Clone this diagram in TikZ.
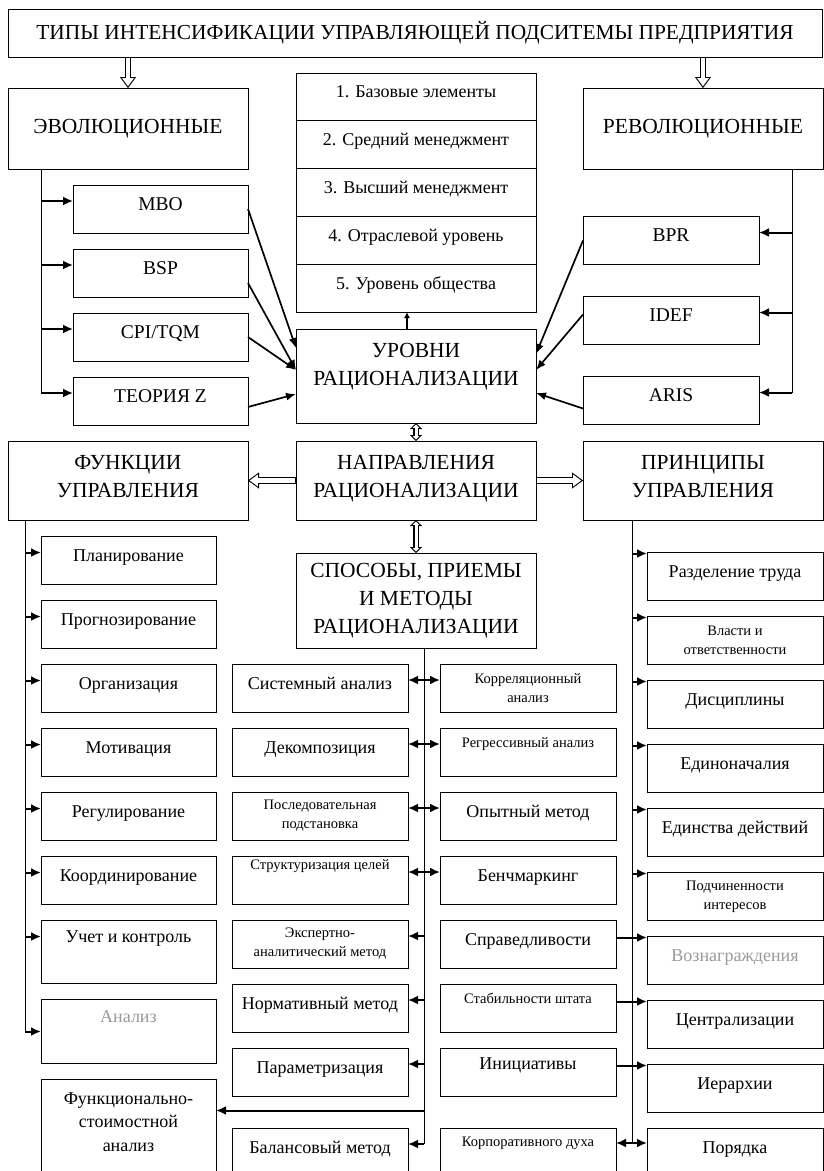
\documentclass[tikz,border=0pt]{standalone}
\usepackage{fontspec}
\setmainfont{Liberation Serif}
\usetikzlibrary{arrows.meta,positioning,calc}
\newcommand{\fsz}[2]{\fontsize{#1}{#2}\selectfont}

\begin{document}
\begin{tikzpicture}[x=1pt, y=-1pt,
  node distance=16pt,
  cell/.style={draw, line width=0.8pt, inner sep=1pt, outer sep=0pt, align=center,
               minimum width=176pt, minimum height=48pt, font=\fsz{18}{23.5}},
  oneline/.style={text height=12pt, text depth=10pt},
  lift/.style={text depth=#1},
  smalltxt/.style={font=\fsz{14.5}{19}},
  headbox/.style={cell, minimum width=240pt, font=\fsz{21.5}{28}},
  levelrow/.style={cell, oneline, minimum width=240pt, minimum height=47.8pt},
  abbr/.style={cell, oneline, minimum width=175pt, font=\fsz{19.5}{23}},
  trunk/.style={line width=0.9pt},
  arr/.style={-{Latex[length=10pt,width=9pt]}, line width=2pt},
  darr/.style={{Latex[length=10pt,width=9pt]}-{Latex[length=10pt,width=9pt]}, line width=2pt},
  diag/.style={-{Latex[length=10pt,width=8pt]}, line width=1.7pt},
  hollowout/.style={line width=6.8pt, -{Triangle[length=11pt, width=16pt, line width=0.1pt]}},
  hollowin/.style={white, line width=4.6pt, shorten <=0.9pt, shorten >=1.9pt,
                   -{Triangle[length=8pt, width=11.7pt, line width=0.1pt]}},
  dhollowout/.style={line width=5.2pt,
                   {Triangle[length=6pt, width=12pt, line width=0.1pt]}-{Triangle[length=6pt, width=12pt, line width=0.1pt]}},
  dhollowin/.style={white, line width=3pt, shorten <=1.6pt, shorten >=1.6pt,
                   {Triangle[length=3.3pt, width=6.7pt, line width=0.1pt]}-{Triangle[length=3.3pt, width=6.7pt, line width=0.1pt]}}
]
\useasboundingbox (0,0) rectangle (824,1171);

% top level
\node[cell, minimum width=814pt, font=\fsz{21.4}{25}] (title) at (415,33)
  {ТИПЫ ИНТЕНСИФИКАЦИИ УПРАВЛЯЮЩЕЙ ПОДСИТЕМЫ ПРЕДПРИЯТИЯ};
\node[headbox, minimum height=81pt] (evo) at (128,128.5) {ЭВОЛЮЦИОННЫЕ};
\node[headbox, minimum height=81pt] (rev) at (703,128.5) {РЕВОЛЮЦИОННЫЕ};

% levels stack
\node[levelrow] (lv1) at (416,96.9) {1. Базовые элементы};
\node[levelrow, below=0pt of lv1] (lv2) {2. Средний менеджмент};
\node[levelrow, below=0pt of lv2] (lv3) {3. Высший менеджмент};
\node[levelrow, below=0pt of lv3] (lv4) {4. Отраслевой уровень};
\node[levelrow, below=0pt of lv4] (lv5) {5. Уровень общества};

% evolutionary / revolutionary
\node[abbr] (mbo) at (160.5,209) {MBO};
\node[abbr, below=of mbo] (bsp) {BSP};
\node[abbr, below=of bsp] (cpi) {CPI/TQM};
\node[abbr, below=of cpi] (tz) {ТЕОРИЯ Z};
\node[abbr, minimum width=176pt] (bpr) at (671,240.5) {BPR};
\node[abbr, minimum width=176pt, below=32pt of bpr] (idef) {IDEF};
\node[abbr, minimum width=176pt, below=32pt of idef] (aris) {ARIS};

% middle headers
\node[headbox, minimum height=94pt, lift=24pt] (urov) at (416,376) {УРОВНИ\\РАЦИОНАЛИЗАЦИИ};
\node[headbox, minimum height=79pt, lift=9pt] (napr) at (416,480.5) {НАПРАВЛЕНИЯ\\РАЦИОНАЛИЗАЦИИ};
\node[headbox, minimum height=79pt, lift=9pt] (func) at (128,480.5) {ФУНКЦИИ\\УПРАВЛЕНИЯ};
\node[headbox, minimum height=79pt, lift=9pt] (princ) at (703,480.5) {ПРИНЦИПЫ\\УПРАВЛЕНИЯ};
\node[headbox, minimum height=95pt] (sposob) at (416,600.5) {СПОСОБЫ, ПРИЕМЫ\\И МЕТОДЫ\\РАЦИОНАЛИЗАЦИИ};

% functions
\node[cell, oneline, minimum width=175pt] (plan) at (128.5,560.5) {Планирование};
\node[cell, oneline, minimum width=175pt, below=of plan] (prog) {Прогнозирование};
\node[cell, oneline, minimum width=175pt, below=of prog] (org) {Организация};
\node[cell, oneline, minimum width=175pt, below=of org] (motiv) {Мотивация};
\node[cell, oneline, minimum width=175pt, below=of motiv] (regul) {Регулирование};
\node[cell, oneline, minimum width=175pt, below=of regul] (coord) {Координирование};
\node[cell, lift=31pt, minimum width=175pt, minimum height=63pt, below=of coord] (uchet) {Учет и контроль};
\node[cell, lift=30pt, minimum width=175pt, minimum height=64pt, below=of uchet, text=gray!80] (anal) {Анализ};
\node[cell, lift=11pt, minimum width=175pt, minimum height=96pt, below=of anal] (fsa) {Функционально-\\стоимостной\\анализ};

% methods
\node[cell, oneline] (sys) at (320,688) {Системный анализ};
\node[cell, oneline, below=of sys] (decomp) {Декомпозиция};
\node[cell, smalltxt, below=of decomp] (posl) {Последовательная\\подстановка};
\node[cell, smalltxt, lift=31pt, below=of posl] (strukt) {Структуризация целей};
\node[cell, smalltxt, below=of strukt] (ekspert) {Экспертно-\\аналитический метод};
\node[cell, oneline, below=of ekspert] (norm) {Нормативный метод};
\node[cell, oneline, below=of norm] (param) {Параметризация};
\node[cell, oneline, below=32pt of param] (bal) {Балансовый метод};

\node[cell, smalltxt] (kor) at (528,688) {Корреляционный\\анализ};
\node[cell, smalltxt, lift=19pt, below=of kor] (regr) {Регрессивный анализ};
\node[cell, oneline, below=of regr] (opyt) {Опытный метод};
\node[cell, oneline, below=of opyt] (bench) {Бенчмаркинг};
\node[cell, oneline, below=of bench] (sprav) {Справедливости};
\node[cell, smalltxt, lift=20pt, below=of sprav] (stab) {Стабильности штата};
\node[cell, lift=17pt, below=of stab] (inic) {Инициативы};
\node[cell, smalltxt, lift=21pt, below=32pt of inic] (korp) {Корпоративного духа};

% principles
\node[cell, oneline] (razd) at (735,576.5) {Разделение труда};
\node[cell, smalltxt, below=of razd] (vlast) {Власти и\\ответственности};
\node[cell, oneline, below=of vlast] (disc) {Дисциплины};
\node[cell, oneline, below=of disc] (edinon) {Единоначалия};
\node[cell, oneline, below=of edinon] (edinst) {Единства действий};
\node[cell, smalltxt, below=of edinst] (podch) {Подчиненности\\интересов};
\node[cell, oneline, below=of podch, text=gray!80] (vozn) {Вознаграждения};
\node[cell, oneline, below=of vozn] (centr) {Централизации};
\node[cell, oneline, below=of centr] (ier) {Иерархии};
\node[cell, oneline, below=15.5pt of ier] (por) {Порядка};

% hollow arrows
\draw[hollowout] (evo.north |- title.south) -- (evo.north);
\draw[hollowin] (evo.north |- title.south) -- (evo.north);
\draw[hollowout] (rev.north |- title.south) -- (rev.north);
\draw[hollowin] (rev.north |- title.south) -- (rev.north);
\draw[hollowout] (napr.west) -- (func.east);
\draw[hollowin] (napr.west) -- (func.east);
\draw[hollowout] (napr.east) -- (princ.west);
\draw[hollowin] (napr.east) -- (princ.west);
\draw[dhollowout] (urov.south) -- (napr.north);
\draw[dhollowin] (urov.south) -- (napr.north);
\draw[dhollowout] (napr.south) -- (sposob.north);
\draw[dhollowin] (napr.south) -- (sposob.north);
\draw[line width=1.2pt, -{Latex[length=6pt,width=6pt]}] ([xshift=-9pt]urov.north) -- ([xshift=-9pt]lv5.south);

% evolutionary branch
\coordinate (etop) at ([xshift=33pt]evo.south west);
\foreach \bx in {mbo,bsp,cpi,tz} {\coordinate (\bx-in) at ([yshift=-16pt]\bx.north west);}
\draw[trunk] (etop) -- (etop |- tz-in);
\foreach \bx in {mbo,bsp,cpi,tz} {\draw[arr] (etop |- \bx-in) -- (\bx-in);}
\draw[diag] (mbo.east) -- ([yshift=-19pt]urov.north west);
\draw[diag] ([yshift=-10pt]bsp.east) -- ([yshift=-41pt]urov.north west);
\draw[diag] (cpi.east) -- ([yshift=-41pt]urov.north west);
\draw[diag] ([yshift=-6pt]tz.east) -- ([yshift=-65pt]urov.north west);

% revolutionary branch
\coordinate (rtop) at ([xshift=-31pt]rev.south east);
\foreach \bx in {bpr,idef,aris} {\coordinate (\bx-in) at ([yshift=-16pt]\bx.north east);}
\draw[trunk] (rtop) -- (rtop |- aris-in);
\foreach \bx in {bpr,idef,aris} {\draw[arr] (rtop |- \bx-in) -- (\bx-in);}
\draw[diag] (bpr.west) -- ([yshift=-25pt]urov.north east);
\draw[diag] ([yshift=6pt]idef.west) -- ([yshift=-41pt]urov.north east);
\draw[diag] ([yshift=-8pt]aris.west) -- ([yshift=-64pt]urov.north east);

% functions branch
\coordinate (ftop) at ([xshift=17pt]func.south west);
\foreach \bx in {plan,prog,org,motiv,regul,coord,uchet} {\coordinate (\bx-in) at ([yshift=-16pt]\bx.north west);}
\coordinate (anal-in) at (anal.west);
\draw[trunk] (ftop) -- (ftop |- anal-in);
\foreach \bx in {plan,prog,org,motiv,regul,coord,uchet,anal} {\draw[arr] (ftop |- \bx-in) -- (\bx-in);}

% methods branch
\coordinate (mtop) at ([xshift=8pt]sposob.south);
\foreach \lb/\rb in {sys/kor,decomp/regr,posl/opyt,strukt/bench}
  {\draw[darr] ([yshift=-16pt]\lb.north east) -- ([yshift=-16pt]\rb.north west);}
\foreach \bx in {ekspert,norm,param,bal} {\coordinate (\bx-in) at ([yshift=-16pt]\bx.north east);}
\coordinate (fsa-in) at ([yshift=-31pt]fsa.north east);
\draw[trunk] (mtop) -- (mtop |- bal-in);
\foreach \bx in {ekspert,norm,param,bal,fsa} {\draw[arr] (mtop |- \bx-in) -- (\bx-in);}

% principles branch
\coordinate (ptop) at ([xshift=49pt]princ.south west);
\foreach \bx in {razd,vlast,disc,edinon,edinst,podch,vozn,centr,ier} {\coordinate (\bx-in) at ([yshift=-1pt]\bx.north west);}
\coordinate (por-in) at ([yshift=-15pt]por.north west);
\draw[trunk] (ptop) -- (ptop |- por-in);
\foreach \bx in {razd,vlast,disc,edinon,edinst,podch} {\draw[arr] (ptop |- \bx-in) -- (\bx-in);}
\foreach \lb/\rb in {sprav/vozn,stab/centr,inic/ier} {\draw[arr] (\lb.east |- \rb-in) -- (\rb-in);}
\draw[darr] (korp.east |- por-in) -- (por-in);
\end{tikzpicture}
\end{document}
